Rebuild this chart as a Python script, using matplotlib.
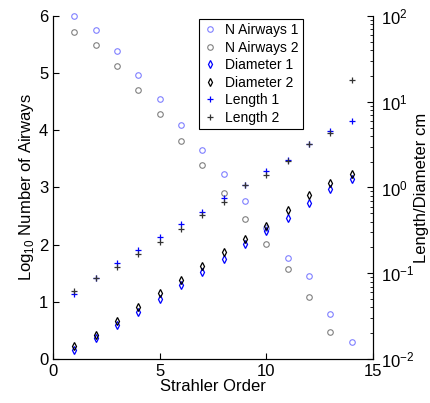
import numpy as np
import matplotlib
matplotlib.use('Agg')
import matplotlib.pyplot as plt

plt.rcParams['font.family'] = ['Liberation Sans', 'DejaVu Sans']
plt.rcParams['mathtext.fontset'] = 'custom'
plt.rcParams['mathtext.rm'] = 'Liberation Sans'

# Strahler order and values
order = np.arange(1, 15)
n_airways_1 = [6.00, 5.76, 5.38, 4.96, 4.55, 4.10, 3.65, 3.23, 2.76, 2.30, 1.77, 1.46, 0.78, 0.30]
n_airways_2 = [5.72, 5.50, 5.13, 4.71, 4.28, 3.82, 3.39, 2.91, 2.45, 2.02, 1.57, 1.08, 0.48, np.nan]
diameter_1 = [0.0126, 0.0174, 0.0247, 0.0353, 0.0501, 0.0724, 0.103, 0.148, 0.218, 0.315, 0.439, 0.665, 0.953, 1.256]
diameter_2 = [0.0143, 0.0192, 0.0277, 0.0401, 0.0584, 0.0841, 0.122, 0.177, 0.253, 0.359, 0.542, 0.811, 1.12, 1.437]
length_1 = [0.0577, 0.0880, 0.133, 0.187, 0.265, 0.375, 0.522, 0.748, 1.07, 1.557, 2.093, 3.19, 4.56, 5.89]
length_2 = [0.0626, 0.0880, 0.119, 0.166, 0.231, 0.331, 0.478, 0.678, 1.07, 1.388, 2.04, 3.19, 4.29, 17.9]

fig = plt.figure(figsize=(4.30, 4.03), dpi=100)
ax = fig.add_axes([0.1233, 0.1092, 0.7441, 0.8511])
ax2 = ax.twinx()

h1, = ax.plot(order, n_airways_1, 'o', mfc='none', mec='#8080ff', ms=4, mew=0.8,
              clip_on=False, label='N Airways 1')
h2, = ax.plot(order, n_airways_2, 'o', mfc='none', mec='#808080', ms=4, mew=0.8,
              clip_on=False, label='N Airways 2')
h3, = ax2.plot(order, diameter_1, 'd', mfc='none', mec='#0000ff', ms=4, mew=0.9, label='Diameter 1')
h4, = ax2.plot(order, diameter_2, 'd', mfc='none', mec='#000000', ms=4, mew=0.9, label='Diameter 2')
h5, = ax2.plot(order, length_1, '+', color='#0000ff', ms=5, mew=0.9, label='Length 1')
h6, = ax2.plot(order, length_2, '+', color='#333333', ms=5, mew=0.9, label='Length 2')

ax.set_xlim(0, 15)
ax.set_ylim(0, 6)
ax.set_xticks([0, 5, 10, 15])
ax.set_yticks(range(7))
ax2.set_yscale('log')
ax2.set_ylim(1e-2, 1e2)

for a in (ax, ax2):
    a.spines['top'].set_visible(False)
    a.tick_params(direction='in', labelsize=12, length=4, top=False)
ax2.tick_params(which='minor', direction='in', length=2)
ax2.tick_params(axis='y', pad=5.5)
ax.tick_params(right=False)

ax.set_xlabel('Strahler Order', fontsize=12, labelpad=0)
ax.set_ylabel('Log$_{10}$ Number of Airways', fontsize=12, labelpad=2)
ax2.set_ylabel('Length/Diameter cm', fontsize=12, labelpad=0)

leg = ax2.legend(handles=[h1, h2, h3, h4, h5, h6], loc='upper left',
                 bbox_to_anchor=(0.456, 0.991), borderaxespad=0, fontsize=10,
                 fancybox=False, edgecolor='black', framealpha=1,
                 handlelength=1.0, handletextpad=0.6, labelspacing=0.25, borderpad=0.3)
leg.get_frame().set_linewidth(0.8)

plt.savefig('out.png', dpi=100)
